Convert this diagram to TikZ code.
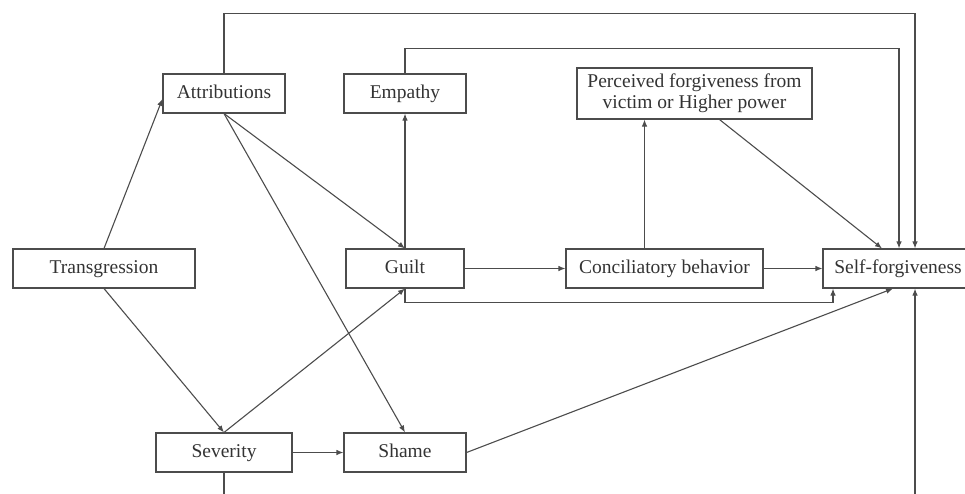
\documentclass[tikz,border=0pt]{standalone}
\usepackage{fontspec}
\setmainfont{Liberation Serif}
\usepackage{tikz}
\usetikzlibrary{arrows.meta}

\tikzset{
    box/.style={draw=black!70, line width=1.1pt, minimum height=39pt, inner sep=3pt,
        text=black!80, font=\fontsize{19.5}{21}\selectfont},
    onebox/.style={box, text height=13pt, text depth=4pt},
    arr/.style={draw=black!70, line width=1.1pt, -{Latex[length=7pt,width=5.5pt]}},
}

\begin{document}
\begin{tikzpicture}[x=1pt, y=-1pt]
            \useasboundingbox (0,0) rectangle (965,493);
            \clip (0,0) rectangle (965,493);

            \node[onebox, minimum width=122pt] (attr) at (224, 93.5) {Attributions};
            \node[onebox, minimum width=122pt] (emp) at (405, 93.5) {Empathy};
            \node[box, minimum width=235pt, minimum height=51pt, align=center] (perc) at (694.5, 93.5) {Perceived forgiveness from\\victim or Higher power};
            \node[onebox, minimum width=182pt] (trans) at (104, 268.5) {Transgression};
            \node[onebox, minimum width=118pt] (guilt) at (405, 268.5) {Guilt};
            \node[onebox, minimum width=197pt] (conc) at (664.5, 268.5) {Conciliatory behavior};
            \node[onebox, minimum width=150pt] (sf) at (898, 268.5) {Self-forgiveness};
            \node[onebox, minimum width=136pt] (sev) at (224, 452.5) {Severity};
            \node[onebox, minimum width=122pt] (shame) at (405, 452.5) {Shame};

            \draw[arr] (trans.north) -- (attr.185); % trans-attr
            \draw[arr] (trans.south) -- (sev.north); % trans-sev
            \draw[arr] (attr.south) -- (guilt.north); % attr-guilt
            \draw[arr] (attr.south) -- (shame.north); % attr-shame
            \draw[arr] (sev.north) -- (guilt.south); % sev-guilt
            \draw[arr] (sev.east) -- (shame.west); % sev-shame
            \draw[arr] (guilt.north) -- (emp.south); % guilt-emp
            \draw[arr] (guilt.east) -- (conc.west); % guilt-conc
            \draw[arr] (conc.east) -- (sf.west); % conc-sf
            \draw[arr] ([xshift=-20pt]conc.north) -- ([xshift=-20pt]conc.north |- perc.south); % conc-perc
            \draw[arr] ([xshift=25pt]perc.south) -- ([xshift=-16pt]sf.north); % perc-sf
            \draw[arr] (shame.east) -- ([xshift=-5pt]sf.south); % shame-sf
            \draw[arr] (guilt.south) -- ++(0,14) -| ([xshift=-65pt]sf.south); % guilt-sf
            \draw[arr] (emp.north) -- ++(0,-25) -| ([xshift=1pt]sf.north); % emp-sf
            \draw[arr] (attr.north) -- ++(0,-60) -| ([xshift=17pt]sf.north); % attr-sf
            \draw[arr] (sev.south) -- ++(0,40) -| ([xshift=17pt]sf.south); % sev-sf
        \end{tikzpicture}
\end{document}
